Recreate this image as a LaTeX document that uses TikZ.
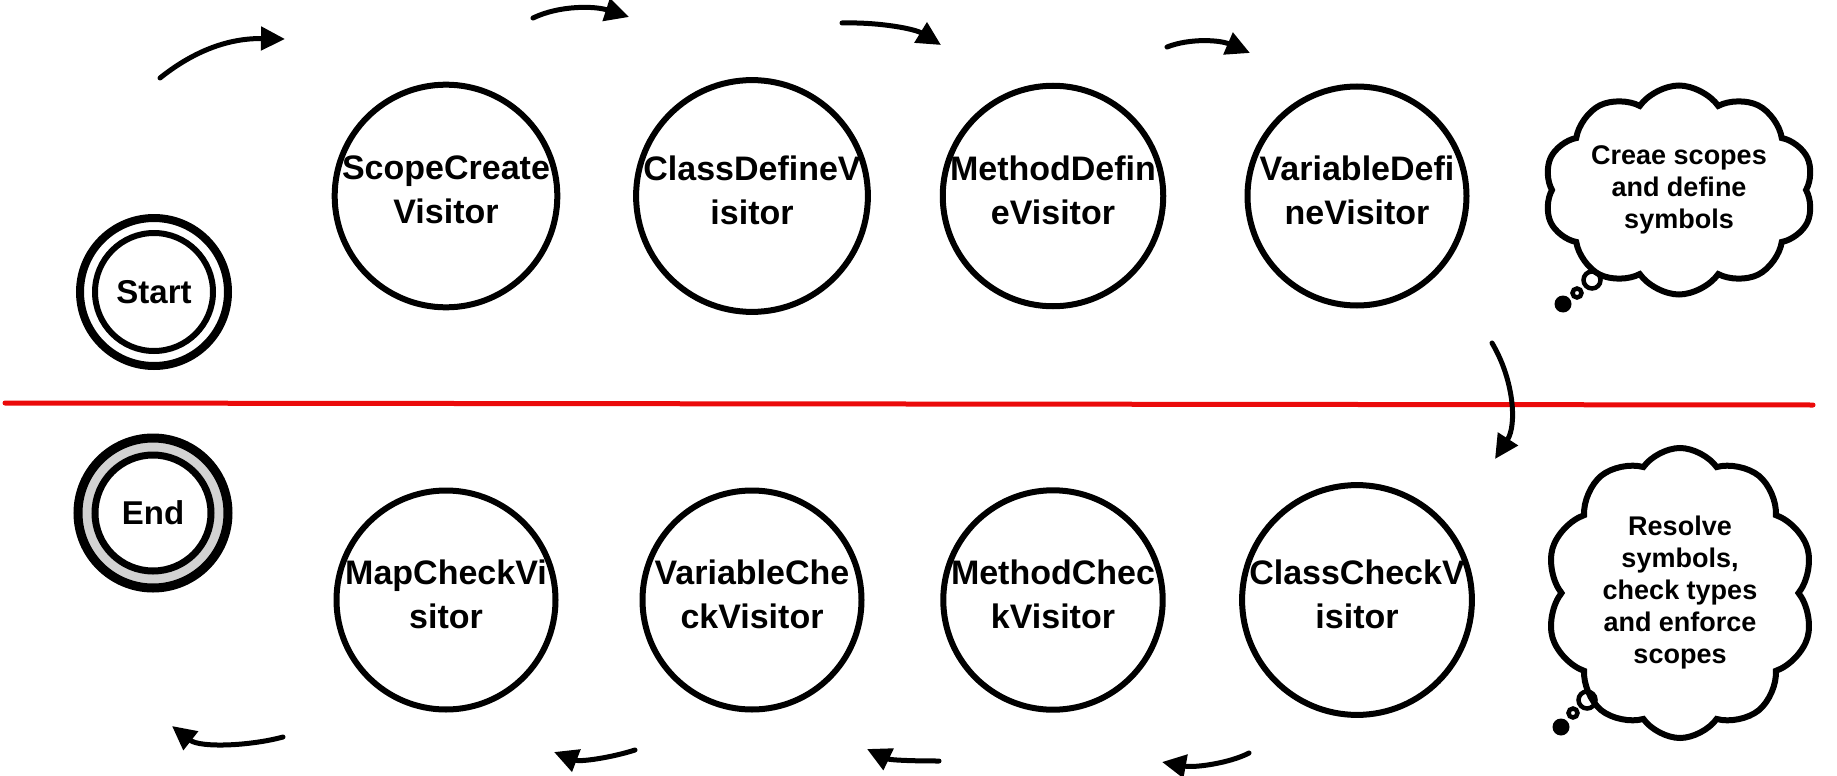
\documentclass[tikz,border=0pt]{standalone}
\usepackage{fontspec}
\setmainfont{Liberation Sans}
\usetikzlibrary{arrows.meta,shapes.symbols}
\definecolor{ringgray}{RGB}{210,210,210}
\definecolor{linered}{RGB}{235,10,10}
\begin{document}
\begin{tikzpicture}[x=1pt,y=-1pt,
  visitor/.style={circle,draw,line width=6pt,minimum size=219pt,inner sep=0pt,align=center,
    text depth=12pt,font=\fontsize{34}{44}\selectfont\bfseries},
  termfont/.style={font=\fontsize{33}{40}\selectfont\bfseries},
  flow/.style={line width=5pt,line cap=round,-{Triangle[length=24pt,width=23pt]}},
  thought/.style={cloud,draw,line width=6pt,cloud puffs=10,cloud puff arc=110,cloud ignores aspect,
    inner sep=0pt,align=center,font=\fontsize{27}{32}\selectfont\bfseries},
  bubble/.style={circle,draw,line width=4.5pt,inner sep=0pt},
  dot/.style={circle,fill,inner sep=0pt,minimum size=17pt}]
\useasboundingbox (0,0) rectangle (1837,776);

% divider
\coordinate (r1) at (5,403);
\coordinate (r2) at (1813,405);
\draw[linered,line width=5pt,line cap=round] (r1) -- (r2);

% start / end
\node[circle,draw,line width=8pt,minimum size=148pt] (startout) at (154,292) {};
\node[circle,draw,line width=6pt,minimum size=118pt,termfont] (start) at (154,292) {Start};
\node[circle,draw,fill=ringgray,line width=9pt,minimum size=150pt] (endout) at (153,513) {};
\node[circle,draw,fill=white,line width=7pt,minimum size=116pt,termfont] (end) at (153,513) {End};

% top row
\node[visitor] (v1) at (446,196) {ScopeCreate\\Visitor};
\node[visitor] (v2) at (752,196) {ClassDefineV\\isitor};
\node[visitor] (v3) at (1053,196) {MethodDefin\\eVisitor};
\node[visitor] (v4) at (1357,196) {VariableDefi\\neVisitor};

% bottom row
\node[visitor] (w1) at (446,600) {MapCheckVi\\sitor};
\node[visitor] (w2) at (752,600) {VariableChe\\ckVisitor};
\node[visitor] (w3) at (1053,600) {MethodChec\\kVisitor};
\node[visitor] (w4) at (1357,600) {ClassCheckV\\isitor};

% clouds
\node[thought,minimum width=270pt,minimum height=209pt] (c1) at (1679,190) {Creae scopes\\and define\\symbols};
\node[bubble,minimum size=17pt] (c1b1) at (1592,280) {};
\node[bubble,minimum size=9pt] (c1b2) at (1577,293) {};
\node[dot] (c1b3) at (1563,304) {};

\node[thought,minimum width=268pt,minimum height=290pt] (c2) at (1680,593) {Resolve\\symbols,\\check types\\and enforce\\scopes};
\node[bubble,minimum size=17pt] (c2b1) at (1587,700) {};
\node[bubble,minimum size=9pt] (c2b2) at (1573,713) {};
\node[dot] (c2b3) at (1561,727) {};

% arrows top
\coordinate (a1s) at (160,78);  \coordinate (a1e) at (285,39);
\coordinate (a2s) at (533,18);  \coordinate (a2e) at (629,17);
\coordinate (a3s) at (842,23);  \coordinate (a3e) at (941,45);
\coordinate (a4s) at (1167,47); \coordinate (a4e) at (1250,53);
\draw[flow] (a1s) .. controls (195,50) and (230,38) .. (a1e);
\draw[flow] (a2s) .. controls (560,5) and (595,6) .. (a2e);
\draw[flow] (a3s) .. controls (880,22) and (915,29) .. (a3e);
\draw[flow] (a4s) .. controls (1190,38) and (1220,40) .. (a4e);

% down arrow
\coordinate (ds) at (1492,343); \coordinate (de) at (1495,459);
\draw[flow] (ds) .. controls (1514,380) and (1517,425) .. (de);

% arrows bottom
\coordinate (b1s) at (283,737);  \coordinate (b1e) at (172,726);
\coordinate (b2s) at (635,750);  \coordinate (b2e) at (554,752);
\coordinate (b3s) at (939,761);  \coordinate (b3e) at (867,749);
\coordinate (b4s) at (1249,753); \coordinate (b4e) at (1162,762);
\draw[flow] (b1s) .. controls (250,746) and (200,748) .. (b1e);
\draw[flow] (b2s) .. controls (610,758) and (580,762) .. (b2e);
\draw[flow] (b3s) .. controls (910,761) and (890,760) .. (b3e);
\draw[flow] (b4s) .. controls (1230,763) and (1195,768) .. (b4e);
\end{tikzpicture}
\end{document}
